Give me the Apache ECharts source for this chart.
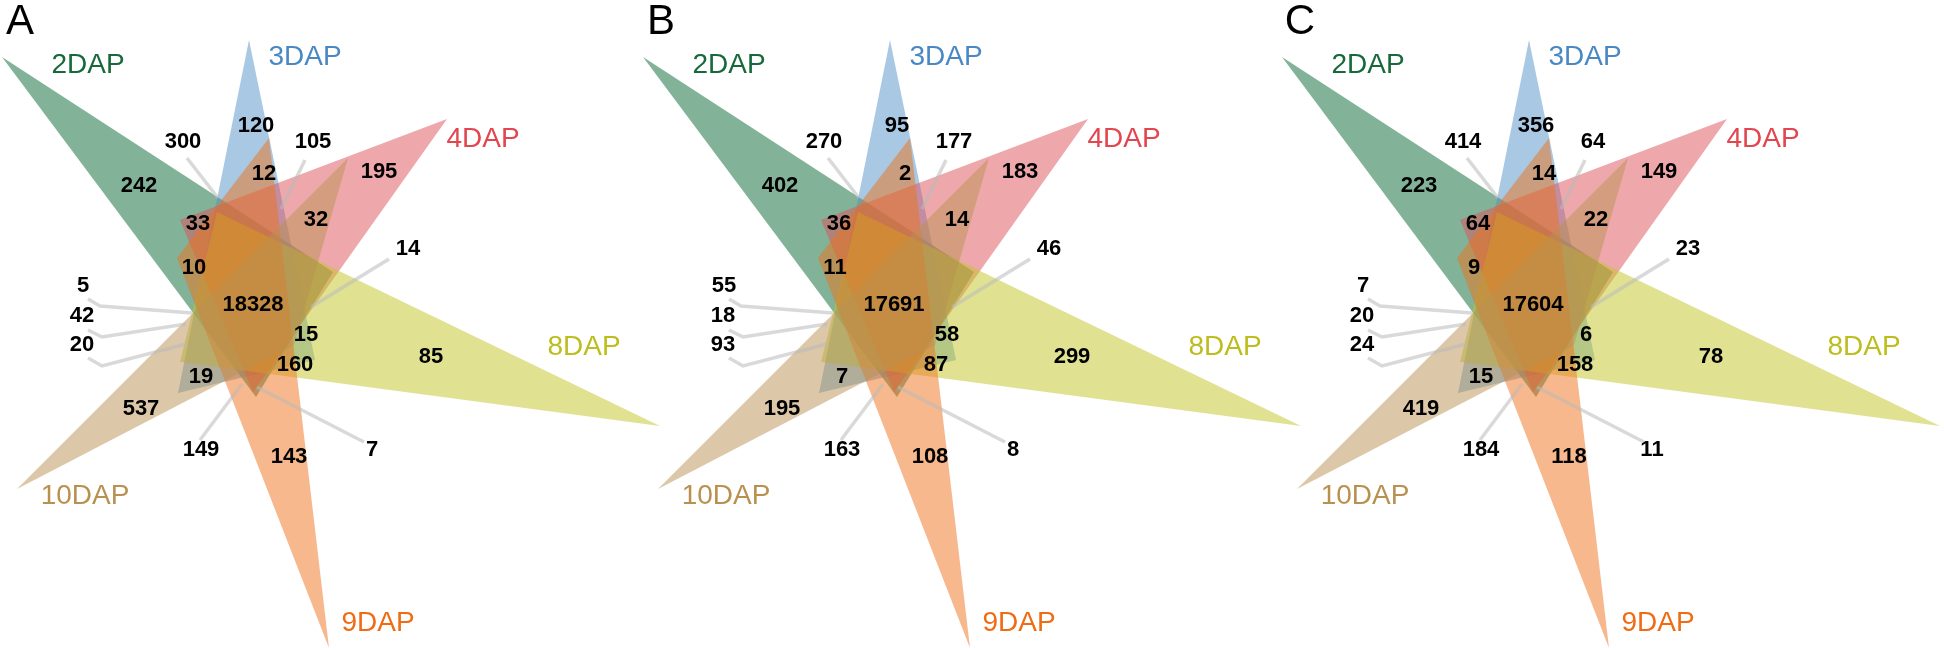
<!DOCTYPE html>
<html><head><meta charset="utf-8">
<script src="https://cdn.jsdelivr.net/npm/echarts@6/dist/echarts.min.js"></script>
<style>html,body{margin:0;padding:0;background:#fff}#c{width:1944px;height:650px}</style>
</head><body><div id="c"></div>
<script>
// ---------- data ----------
const panelTitles = ['A', 'B', 'C'];
const setNames = ['2DAP', '3DAP', '4DAP', '8DAP', '9DAP', '10DAP'];
const regionNames = ['r1', 'r2', 'r3', '2DAP only', 'r5', '4DAP only', 'r7', 'r8', 'r9', 'r10',
  'r11', 'r12', 'r13', 'all six', 'r15', '8DAP only', 'r17', 'r18', '10DAP only', 'r20', '9DAP only', 'r22'];
const countsA = [300, 120, 105, 242, 12, 195, 33, 32, 14, 10, 5, 42, 20, 18328, 15, 85, 160, 19, 537, 149, 143, 7];
const countsB = [270, 95, 177, 402, 2, 183, 36, 14, 46, 11, 55, 18, 93, 17691, 58, 299, 87, 7, 195, 163, 108, 8];
const countsC = [414, 356, 64, 223, 14, 149, 64, 22, 23, 9, 7, 20, 24, 17604, 6, 78, 158, 15, 419, 184, 118, 11];
const panelCounts = [countsA, countsB, countsC];

// ---------- layout (panel-local pixel units) ----------
const panelLeft = [0, 641, 1280];
const triangles = [
  [[2, 57], [333, 272], [256, 397]],     // 2DAP
  [[249, 40], [178, 393], [315, 360]],   // 3DAP
  [[447, 119], [180, 220], [253, 392]],  // 4DAP
  [[660, 426], [217, 212], [180, 362]],  // 8DAP
  [[329, 648], [269, 138], [177, 258]],  // 9DAP
  [[17, 489], [348, 158], [294, 345]]    // 10DAP
];
const fills = ['rgba(5,101,49,0.5)', 'rgba(81,145,201,0.5)', 'rgba(221,81,89,0.5)',
  'rgba(193,197,37,0.5)', 'rgba(237,113,25,0.5)', 'rgba(185,145,81,0.5)'];
const setLabelColors = ['#17693a', '#4a88c4', '#e2464f', '#bdbd1e', '#f06c14', '#b9914f'];
const setLabelPos = [[88, 65], [305, 57], [483, 139], [584, 347], [378, 623], [85, 496]];
const regionPos = [[183, 142], [256, 126], [313, 142], [139, 186], [264, 174], [379, 172], [198, 224],
  [316, 220], [408, 249], [194, 268], [83, 286], [82, 316], [82, 345], [253, 305], [306, 335],
  [431, 357], [295, 365], [201, 377], [141, 409], [201, 450], [289, 457], [372, 450]];
const leaders = [
  [[187, 158], [218, 198]],
  [[305, 160], [281, 209]],
  [[389, 259], [311, 307]],
  [[88, 299], [100, 306], [192, 313]],
  [[88, 330], [102, 337], [186, 324]],
  [[88, 358], [102, 366], [186, 344]],
  [[200, 440], [242, 384]],
  [[364, 442], [257, 387]]
];

const chart = echarts.init(document.getElementById('c'), null, {renderer: 'canvas'});
const grids = [], xAxes = [], yAxes = [], series = [];
panelTitles.forEach((t, p) => {
  grids.push({left: panelLeft[p], top: 0, width: 660, height: 650});
  xAxes.push({type: 'value', gridIndex: p, min: 0, max: 660, show: false});
  yAxes.push({type: 'value', gridIndex: p, min: 0, max: 650, inverse: true, show: false});
  // triangles
  series.push({
    type: 'custom', xAxisIndex: p, yAxisIndex: p, clip: false, z: 2,
    data: setNames.map((n, i) => [i]),
    renderItem: (params, api) => ({
      type: 'polygon',
      shape: {points: triangles[api.value(0)].map(q => api.coord(q))},
      style: {fill: fills[api.value(0)]}
    })
  });
  // leader lines
  series.push({
    type: 'custom', xAxisIndex: p, yAxisIndex: p, clip: false, z: 3,
    data: leaders.map((l, i) => [i]),
    renderItem: (params, api) => ({
      type: 'polyline',
      shape: {points: leaders[api.value(0)].map(q => api.coord(q))},
      style: {stroke: 'rgba(185,185,185,0.55)', lineWidth: 3.5, fill: null}
    })
  });
  // set labels
  series.push({
    type: 'custom', xAxisIndex: p, yAxisIndex: p, clip: false, z: 3,
    data: setNames.map((n, i) => [i]),
    renderItem: (params, api) => {
      const i = api.value(0); const c = api.coord(setLabelPos[i]);
      return {type: 'text', x: c[0], y: c[1], style: {text: setNames[i], fill: setLabelColors[i],
        font: '28px "Liberation Sans", Arial, sans-serif', align: 'center', verticalAlign: 'middle'}};
    }
  });
  // region counts
  series.push({
    type: 'custom', xAxisIndex: p, yAxisIndex: p, clip: false, z: 4,
    data: panelCounts[p].map((v, i) => [i, v]),
    renderItem: (params, api) => {
      const i = api.value(0); const c = api.coord(regionPos[i]);
      return {type: 'text', x: c[0], y: c[1], style: {text: String(api.value(1)), fill: '#000',
        font: 'bold 22px "Liberation Sans", Arial, sans-serif', align: 'center', verticalAlign: 'middle'}};
    }
  });
  // panel letter
  series.push({
    type: 'custom', xAxisIndex: p, yAxisIndex: p, clip: false, z: 4,
    data: [[0]],
    renderItem: (params, api) => {
      const c = api.coord([20, 22]);
      return {type: 'text', x: c[0], y: c[1], style: {text: t, fill: '#000',
        font: '42px "Liberation Sans", Arial, sans-serif', align: 'center', verticalAlign: 'middle'}};
    }
  });
});
chart.setOption({animation: false, backgroundColor: '#fff', grid: grids, xAxis: xAxes, yAxis: yAxes, series});
</script></body></html>
